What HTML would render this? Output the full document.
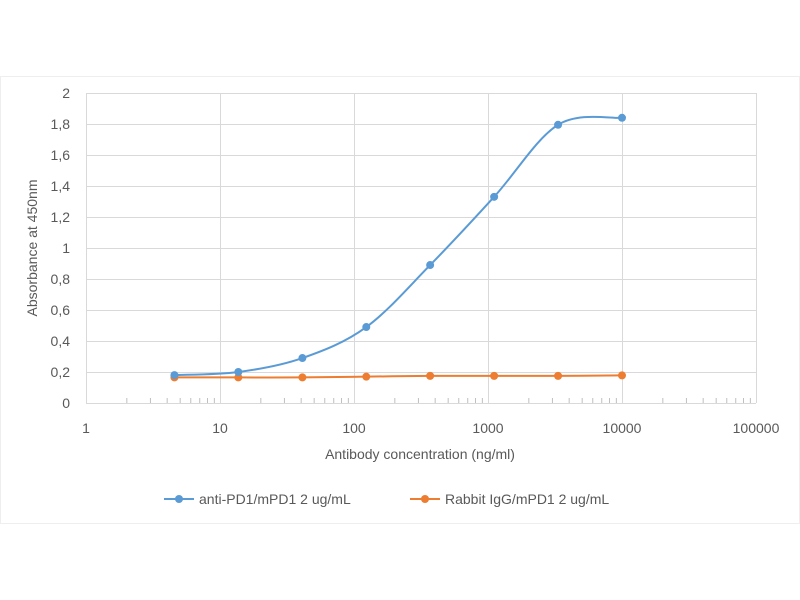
<!DOCTYPE html>
<html><head><meta charset="utf-8"><style>
body{margin:0;background:#fff;}
svg{display:block;font-family:"Liberation Sans",sans-serif;}
</style></head><body>
<svg id="s" width="800" height="600" xmlns="http://www.w3.org/2000/svg">
<rect x="0.5" y="76.5" width="799" height="447" fill="#fff" stroke="#eeeeee"/>
<g id="grid" stroke="#d9d9d9" stroke-width="1"></g>
<g font-size="14" fill="#595959" id="lab"></g>
<text x="-248" y="37" transform="rotate(-90)" font-size="14" fill="#595959" text-anchor="middle">Absorbance at 450nm</text>
<text x="420" y="459" font-size="14" fill="#595959" text-anchor="middle">Antibody concentration (ng/ml)</text>
<g id="ser"></g>
<line x1="164" y1="499" x2="194" y2="499" stroke="#5b9bd5" stroke-width="2"/><circle cx="179" cy="499" r="4" fill="#5b9bd5"/>
<text x="199" y="504" font-size="14" fill="#595959">anti-PD1/mPD1 2 ug/mL</text>
<line x1="410" y1="499" x2="440" y2="499" stroke="#ed7d31" stroke-width="2"/><circle cx="425" cy="499" r="4" fill="#ed7d31"/>
<text x="445" y="504" font-size="14" fill="#595959">Rabbit IgG/mPD1 2 ug/mL</text>
</svg>
<script>
var NS="http://www.w3.org/2000/svg";
function el(p,t,a,txt){var e=document.createElementNS(NS,t);for(var k in a)e.setAttribute(k,a[k]);if(txt!==undefined)e.textContent=txt;p.appendChild(e);return e;}
var X0=86,D=134,Y0=403,H=310;
function X(v){return X0+D*Math.log10(v);}
function Y(v){return Y0-v/2*H;}
var g=document.getElementById('grid'),lab=document.getElementById('lab');
for(var i=0;i<=10;i++){var y=Y(i*0.2);el(g,'line',{x1:X0,x2:756,y1:y+0.5,y2:y+0.5});
el(lab,'text',{x:70,y:y+5,'text-anchor':'end'},i==10?'2':(i==0?'0':(i==5?'1':((i*0.2).toFixed(1).replace('.',',')))));}
var labs=['1','10','100','1000','10000','100000'];
for(var d=0;d<=5;d++){var x=X0+D*d;el(g,'line',{x1:x+0.5,x2:x+0.5,y1:Y(2),y2:Y0});
el(lab,'text',{x:x,y:433,'text-anchor':'middle'},labs[d]);
if(d<5)for(var m=2;m<10;m++){var xm=X0+D*(d+Math.log10(m));el(g,'line',{x1:xm+0.5,x2:xm+0.5,y1:Y0,y2:Y0-5,stroke:'#bfbfbf'});}}
var xs=[4.57,13.7,41.2,123.5,370,1111,3333,10000];
var b=[0.18,0.2,0.29,0.49,0.89,1.33,1.795,1.84];
var o=[0.165,0.165,0.165,0.17,0.175,0.175,0.175,0.178];
var ser=document.getElementById('ser');
function draw(vals,c){var p=xs.map(function(x,i){return [X(x),Y(vals[i])];});
var d='M'+p[0][0]+','+p[0][1];
for(var i=0;i<p.length-1;i++){var p0=p[i-1]||p[i],p1=p[i],p2=p[i+1],p3=p[i+2]||p2;var t=6;
d+=' C'+(p1[0]+(p2[0]-p0[0])/t)+','+(p1[1]+(p2[1]-p0[1])/t)+' '+(p2[0]-(p3[0]-p1[0])/t)+','+(p2[1]-(p3[1]-p1[1])/t)+' '+p2[0]+','+p2[1];}
el(ser,'path',{d:d,fill:'none',stroke:c,'stroke-width':2});
p.forEach(function(q){el(ser,'circle',{cx:q[0],cy:q[1],r:4,fill:c});});}
draw(o,'#ed7d31');draw(b,'#5b9bd5');
</script>
</body></html>
